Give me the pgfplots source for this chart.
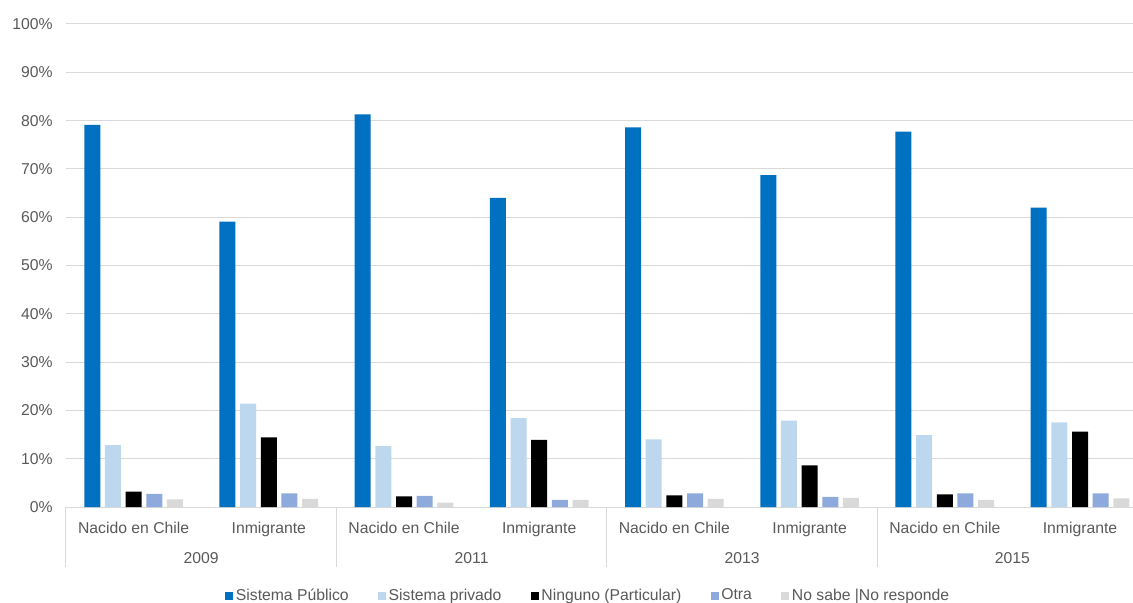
\documentclass[border=0pt]{standalone}
\usepackage{fontspec}
\setmainfont{Liberation Sans}
\usepackage{pgfplots}
\pgfplotsset{compat=1.18}
\usetikzlibrary{calc}
\definecolor{cPub}{RGB}{0,112,192}
\definecolor{cPriv}{RGB}{189,215,238}
\definecolor{cNin}{RGB}{0,0,0}
\definecolor{cOtra}{RGB}{142,169,219}
\definecolor{cNS}{RGB}{217,217,217}
\definecolor{gridc}{RGB}{217,217,217}
\definecolor{txt}{RGB}{89,89,89}
\begin{document}
\fontsize{11.8bp}{14bp}\selectfont
\begin{tikzpicture}
\begin{axis}[
  name=ax, at={(0,0)}, anchor=south west,
  scale only axis, width=800.25bp, height=362.25bp,
  xmin=-0.5, xmax=7.392, ymin=0, ymax=100,
  ybar, bar width=12bp,
  axis x line*=bottom, axis y line*=left,
  y axis line style={draw=none},
  x axis line style={gridc, line width=0.75bp},
  major tick length=0,
  ymajorgrids, grid style={gridc, line width=0.75bp},
  ytick={0,10,20,30,40,50,60,70,80,90,100},
  yticklabels={0\%,10\%,20\%,30\%,40\%,50\%,60\%,70\%,80\%,90\%,100\%},
  xtick={0,1,2,3,4,5,6,7},
  xticklabels={Nacido en Chile,Inmigrante,Nacido en Chile,Inmigrante,Nacido en Chile,Inmigrante,Nacido en Chile,Inmigrante},
  tick label style={text=txt},
  yticklabel style={anchor=east, inner sep=0pt, xshift=-9.75bp},
  xticklabel style={anchor=base, inner sep=0pt, yshift=-19.5bp},
  clip=false,
  legend columns=5,
  legend style={at={(0.4897,0)}, anchor=center, yshift=-66.5bp, draw=none, fill=none,
    text=txt, inner sep=0pt,
    /tikz/every even column/.append style={column sep=20bp}},
  legend image code/.code={\fill[#1] (0bp,-3.5bp) rectangle (6bp,2.5bp);},
]
\addplot[fill=cPub, draw=none, bar shift=-31bp] coordinates {(0,79.1) (1,59.1) (2,81.3) (3,64.0) (4,78.6) (5,68.7) (6,77.7) (7,62.0)};
\addplot[fill=cPriv, draw=none, bar shift=-15.5bp] coordinates {(0,12.8) (1,21.4) (2,12.6) (3,18.4) (4,14.0) (5,17.9) (6,14.9) (7,17.5)};
\addplot[fill=cNin, draw=none, bar shift=0bp] coordinates {(0,3.2) (1,14.4) (2,2.2) (3,13.9) (4,2.4) (5,8.6) (6,2.6) (7,15.6)};
\addplot[fill=cOtra, draw=none, bar shift=15.5bp] coordinates {(0,2.7) (1,2.8) (2,2.3) (3,1.5) (4,2.8) (5,2.1) (6,2.8) (7,2.8)};
\addplot[fill=cNS, draw=none, bar shift=31bp] coordinates {(0,1.6) (1,1.7) (2,0.9) (3,1.5) (4,1.7) (5,1.9) (6,1.5) (7,1.8)};
\legend{Sistema Público,Sistema privado,Ninguno (Particular),Otra,No sabe |No responde}
\draw[gridc, line width=0.75bp] (axis cs:-0.5,0) -- ([yshift=-45bp]axis cs:-0.5,0);
\draw[gridc, line width=0.75bp] (axis cs:1.5,0) -- ([yshift=-45bp]axis cs:1.5,0);
\draw[gridc, line width=0.75bp] (axis cs:3.5,0) -- ([yshift=-45bp]axis cs:3.5,0);
\draw[gridc, line width=0.75bp] (axis cs:5.5,0) -- ([yshift=-45bp]axis cs:5.5,0);
\node[text=txt, anchor=base, inner sep=0pt] at ([yshift=-42.3bp]axis cs:0.5,0) {2009};
\node[text=txt, anchor=base, inner sep=0pt] at ([yshift=-42.3bp]axis cs:2.5,0) {2011};
\node[text=txt, anchor=base, inner sep=0pt] at ([yshift=-42.3bp]axis cs:4.5,0) {2013};
\node[text=txt, anchor=base, inner sep=0pt] at ([yshift=-42.3bp]axis cs:6.5,0) {2015};
\end{axis}
\pgfresetboundingbox
\path[use as bounding box] ($(ax.south west)+(-49.5bp,-72bp)$) rectangle ($(ax.south west)+(800.25bp,380.25bp)$);
\end{tikzpicture}
\end{document}
